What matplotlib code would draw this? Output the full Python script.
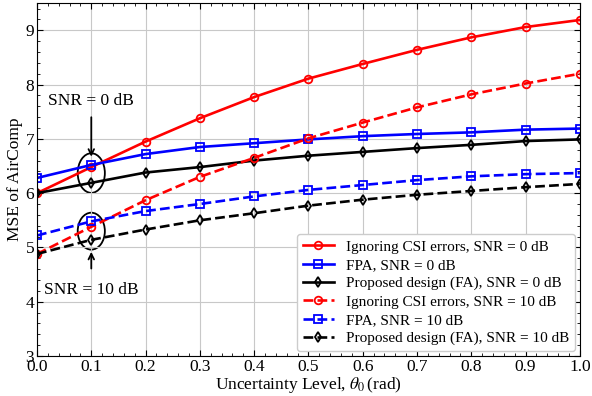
import numpy as np
import matplotlib
matplotlib.use("Agg")
from matplotlib import pyplot as plt
from matplotlib.patches import Ellipse
from matplotlib.ticker import AutoMinorLocator

plt.rcParams['font.family'] = ['Liberation Serif', 'DejaVu Serif']
plt.rcParams['mathtext.fontset'] = 'stix'

theta = [0.0, 0.1, 0.2, 0.3, 0.4, 0.5, 0.6, 0.7, 0.8, 0.9, 1.0]

# SNR = 0 dB
ignore_0 = [6.00, 6.48, 6.95, 7.38, 7.77, 8.11, 8.38, 8.64, 8.87, 9.06, 9.19]
fpa_0 = [6.28, 6.52, 6.72, 6.85, 6.92, 6.99, 7.05, 7.09, 7.12, 7.17, 7.19]
prop_0 = [6.00, 6.19, 6.38, 6.48, 6.60, 6.69, 6.76, 6.83, 6.89, 6.96, 6.99]

# SNR = 10 dB
ignore_10 = [4.88, 5.38, 5.87, 6.30, 6.65, 7.01, 7.30, 7.58, 7.82, 8.02, 8.20]
fpa_10 = [5.22, 5.48, 5.67, 5.80, 5.94, 6.06, 6.15, 6.24, 6.31, 6.35, 6.37]
prop_10 = [4.88, 5.14, 5.33, 5.50, 5.63, 5.77, 5.88, 5.97, 6.04, 6.11, 6.17]

fig = plt.figure(figsize=(5.92, 3.96), dpi=100)
ax = fig.add_axes([0.0625, 0.101, 0.917, 0.891])

kw = dict(lw=1.9, ms=5.5, mfc='none', mew=1.3)
ax.plot(theta, ignore_0, 'r-o', label='Ignoring CSI errors, SNR = 0 dB', **kw)
ax.plot(theta, fpa_0, 'b-s', label='FPA, SNR = 0 dB', **kw)
ax.plot(theta, prop_0, 'k-d', label='Proposed design (FA), SNR = 0 dB', **kw)
ax.plot(theta, ignore_10, 'r--o', label='Ignoring CSI errors, SNR = 10 dB', **kw)
ax.plot(theta, fpa_10, 'b--s', label='FPA, SNR = 10 dB', **kw)
ax.plot(theta, prop_10, 'k--d', label='Proposed design (FA), SNR = 10 dB', **kw)

# annotations
ax.add_patch(Ellipse((0.1, 6.37), 0.05, 0.73, fill=False, color='k', lw=1.3))
ax.add_patch(Ellipse((0.1, 5.30), 0.05, 0.68, fill=False, color='k', lw=1.3))
ax.annotate('', xy=(0.1, 6.62), xytext=(0.1, 7.45),
            arrowprops=dict(arrowstyle='->', color='k', lw=1.3))
ax.annotate('', xy=(0.1, 4.97), xytext=(0.1, 4.56),
            arrowprops=dict(arrowstyle='->', color='k', lw=1.3))
ax.text(0.1, 7.70, 'SNR = 0 dB', ha='center', va='center', fontsize=12.5)
ax.text(0.1, 4.22, 'SNR = 10 dB', ha='center', va='center', fontsize=12.5)

ax.set_xlim(0, 1)
ax.set_ylim(3, 9.5)
ax.set_xticks(np.arange(0, 1.01, 0.1))
ax.set_yticks([3, 4, 5, 6, 7, 8, 9])
ax.xaxis.set_minor_locator(AutoMinorLocator(5))
ax.yaxis.set_minor_locator(AutoMinorLocator(5))
ax.tick_params(which='both', direction='in', top=True, right=True, labelsize=12.5, pad=2)
ax.tick_params(which='major', length=4)
ax.tick_params(which='minor', length=2)
ax.grid(True, color='#c8c8c8', lw=0.8)
ax.set_xlabel(r'Uncertainty Level, $\theta_0\,$(rad)', fontsize=12.5, labelpad=0)
ax.set_ylabel('MSE of AirComp', fontsize=12.5, labelpad=2)
ax.legend(loc='lower right', fontsize=11, handlelength=2.0, framealpha=1,
          edgecolor='#cccccc', borderaxespad=0.3, labelspacing=0.3)

fig.savefig('out.png', dpi=100)
